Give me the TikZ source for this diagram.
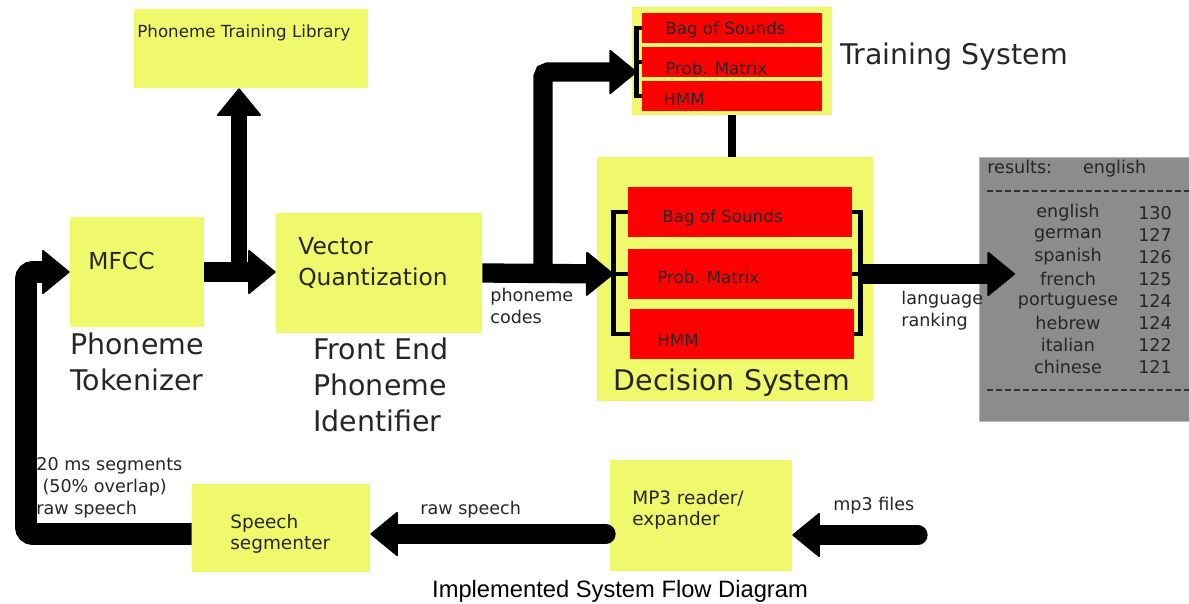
\documentclass[tikz,border=0pt]{standalone}
\usepackage{fontspec}
\setmainfont{DejaVu Sans}
\newfontfamily\capfont{Liberation Sans}
\usetikzlibrary{positioning,arrows.meta,fit}
\definecolor{padc}{HTML}{F0F96C}
\definecolor{modc}{HTML}{FF0000}
\definecolor{resc}{HTML}{8C8C8C}

\begin{document}
\begin{tikzpicture}[x=0.02cm, y=-0.02cm,
  pad/.style={fill=padc, draw=none, inner sep=0pt},
  modbox/.style={fill=modc, draw=none, inner sep=0pt},
  resbox/.style={fill=resc, draw=gray!55, inner sep=0pt},
  tag/.style={inner sep=0pt, text=black!85, font=\fontsize{9.5}{12}\selectfont},
  small/.style={inner sep=0pt, align=left, text=black!85,
                font=\fontsize{10}{12.5}\selectfont},
  lab/.style={inner sep=0pt, align=left, text=black!85,
              font=\fontsize{10.5}{12}\selectfont},
  mid/.style={inner sep=0pt, align=left, text=black!85,
              font=\fontsize{13.3}{17.6}\selectfont},
  big/.style={inner sep=0pt, align=left, text=black!85,
              font=\fontsize{16.2}{20.4}\selectfont},
  flow/.style={line width=11pt,
               -{Triangle[round, length=16pt, width=26pt, line width=1pt]}},
  brace/.style={line width=2.8pt},
  link/.style={line width=5pt},
  rule/.style={line width=0.6pt, black!80, dash pattern=on 3.4pt off 1.7pt}
]
\useasboundingbox (0,0) rectangle (1189,604);

% ---- boxes ----
\node[pad, fit={(134,9) (368,88)}] (lib) {};
\node[pad, fit={(70,217) (204,327)}] (mfcc) {};
\node[pad, fit={(276,213) (482,333)}] (vq) {};
\node[pad, fit={(632,7) (832,115)}] (train) {};
\node[modbox, fit={(642,13) (822,43)}] (tbag) {};
\node[modbox, fit={(642,47) (822,77)}] (tprob) {};
\node[modbox, fit={(642,81) (822,111)}] (thmm) {};
\node[pad, fit={(597,157) (873,401)}] (dec) {};
\node[modbox, fit={(628,187) (852,237)}] (dbag) {};
\node[modbox, fit={(628,249) (852,299)}] (dprob) {};
\node[modbox, fit={(630,309) (854,359)}] (dhmm) {};
\node[resbox, fit={(979,157) (1189,421)}] (res) {};
\node[pad, fit={(610,460) (792,571)}] (mp3) {};
\node[pad, fit={(192,484) (370,572)}] (seg) {};

% ---- texts ----
\node[tag, anchor=west] (libt) at (137,33) {Phoneme Training Library};
\node[mid, anchor=west] (mfcct) at (88,261) {MFCC};
\node[mid, anchor=west] (vqt) at (298,263) {Vector\\Quantization};
\node[big, anchor=west] (tokt) at (70,362) {Phoneme\\Tokenizer};
\node[big, anchor=west] (fet) at (313,385) {Front End\\Phoneme\\Identifier};
\node[tag, anchor=west] (tbagt) at (665,30) {Bag of Sounds};
\node[tag, anchor=west] (tprobt) at (665,68) {Prob. Matrix};
\node[tag, anchor=west] (thmmt) at (663,99) {HMM};
\node[big, anchor=west] (trt) at (840,57) {Training System};
\node[tag, anchor=west] (dbagt) at (662,218) {Bag of Sounds};
\node[tag, anchor=west] (dprobt) at (657,277) {Prob. Matrix};
\node[tag, anchor=west] (dhmmt) at (657,340) {HMM};
\node[big] (dect) at (732,383) {Decision System};
\node[lab, anchor=west] (mp3t) at (632,510) {MP3 reader/\\expander};
\node[lab, anchor=west] (segt) at (230,534) {Speech\\segmenter};

% results listing
\node[small, anchor=west] (head) at (987,169) {results:\hspace{1.76em}english};
\draw[rule] (987,191) -- (1189,191);
\foreach \lang/\score [count=\k] in {english/130, german/127, spanish/126,
    french/125, portuguese/124, hebrew/124, italian/122, chinese/121}{
  \node[small] (lang\k) at (1068,{191+22*\k}) {\lang};
  \node[small] (score\k) at (1155,{191+22*\k}) {\score};
}
\draw[rule] (987,390) -- (1189,390);

% connector labels
\node[small, anchor=west] (codes) at (490,306) {phoneme\\codes};
\node[small, anchor=west] (rank) at (901,311) {language\\ranking};
\node[small, anchor=west] (raw) at (420,510) {raw speech};
\node[small, anchor=west] (files) at (833,506) {mp3 files};
\node[small, anchor=west] (segs) at (36,488)
  {20 ms segments\\\hspace*{0.35em}(50\% overlap)\\raw speech};

% ---- brackets round the model stacks ----
\draw[brace] (tbag.west) -- ++(-5,0) coordinate (tin0) |- (thmm.west);
\draw[brace] (tprob.west) -- (tprob.west -| tin0);
\coordinate (tin) at (637,72);
\draw[brace] (dbag.west) -- ++(-14,0) coordinate (din0) |- (dhmm.west);
\draw[brace] (dprob.west) -- (dprob.west -| din0) coordinate (din);
\draw[brace] (dbag.east) -- ++(8,0) coordinate (dout0) |- (dhmm.east);
\draw[brace] (dprob.east) -- (dprob.east -| dout0) coordinate (dout);
\draw[link] (train.south) -- (train.south |- dec.north);

% ---- flow ----
\coordinate (tap1) at (239,272);
\coordinate (tap2) at (543,274);
\coordinate (rin) at (1015,274);
\coordinate (src) at (918,535);
\coordinate (m3out) at (606,534);
\coordinate (rtn) at (26,534);
\draw[flow] (mfcc.east) -- (mfcc.east -| vq.west);
\draw[flow, line width=9pt] (tap1) -- (tap1 |- lib.south);
\draw[flow] (vq.east) -- (din);
\draw[flow, rounded corners=3pt] (tap2) |- (tin);
\draw[flow] (dout) -- (rin);
\draw[flow, line cap=round] (src) -- (src -| mp3.east);
\draw[flow, line cap=round] (m3out) -- (m3out -| seg.east);
\draw[flow, line width=12.5pt, rounded corners=4pt]
  (seg.west |- rtn) -- (rtn) |- (mfcc.west);

% caption
\node[font=\capfont\fontsize{13.5}{16}\selectfont] (cap) at (620,591)
  {Implemented System Flow Diagram};
\end{tikzpicture}
\end{document}
